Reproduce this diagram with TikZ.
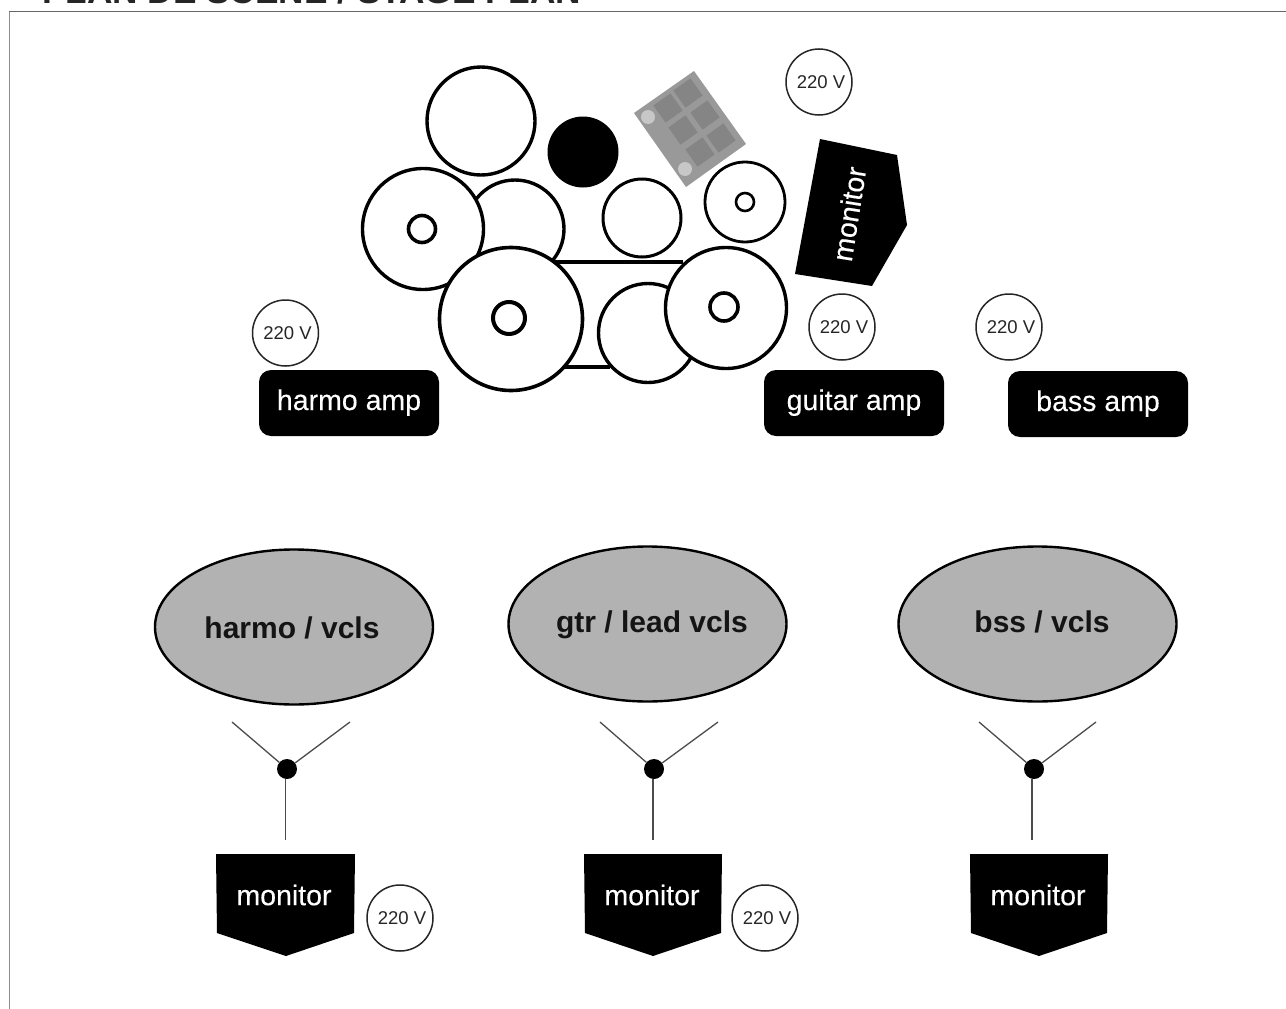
\documentclass[tikz,border=0pt]{standalone}
\usepackage{fontspec}
\setmainfont{Liberation Sans}
\newfontfamily\whitefont[FakeBold=0.25]{Liberation Sans}
\usetikzlibrary{shapes.geometric}
\tikzset{
  x=1pt,y=-1pt,
  drum/.style={circle,draw=black,fill=white,line width=3.4pt,inner sep=0pt},
  lug/.style={circle,draw=black,fill=white,inner sep=0pt},
  volt/.style={circle,draw=black!85,fill=white,line width=1.5pt,inner sep=0pt,minimum size=66pt,text=black!85,font=\fontsize{18.5}{20}\selectfont},
  ampbox/.style={rectangle,rounded corners=12pt,fill=black,text=white,minimum width=180pt,minimum height=66pt,inner sep=0pt,text height=20pt,text depth=6pt,font=\whitefont\fontsize{28.5}{30}\selectfont},
  singer/.style={ellipse,draw=black,line width=2.4pt,fill=black!30,minimum width=278pt,minimum height=155pt,inner sep=0pt},
  singerlabel/.style={inner sep=0pt,text height=22pt,text depth=0pt,font=\bfseries\fontsize{30}{32}\selectfont,text=black!92},
  micdot/.style={circle,fill=black,minimum size=20pt,inner sep=0pt},
  micline/.style={draw=black!70,line width=1.3pt},
  montext/.style={inner sep=0pt,text=white,font=\whitefont\fontsize{28.5}{30}\selectfont},
  monbody/.style={fill=black},
  padbody/.style={fill=black!40},
  padcell/.style={fill=black!48},
  paddot/.style={fill=black!22},
}
\begin{document}
\begin{tikzpicture}
\useasboundingbox (0,0) rectangle (1286,1009);
\fill[white] (0,0) rectangle (1286,1009);
\clip (0,0) rectangle (1286,1009);
% title, cut by the top edge
\node[anchor=base west,inner sep=0pt,font=\bfseries\fontsize{35.2}{36}\selectfont,text=black!85] (title) at (42,4) {PLAN DE SCENE / STAGE PLAN};
% frame
\coordinate (fa) at (9,1009); \coordinate (fb) at (9,11.5); \coordinate (fc) at (1286,11.5);
\draw[draw=black!45,line width=1pt] (fa) -- (fb);
\draw[draw=black!60,line width=1.2pt] (fb) -- (fc);
% pad
\fill[padbody] (694,71) -- (746,144) -- (686,187) -- (634,113) -- cycle;
\foreach \cx/\cy in {688/93,705/115,721/138,668/108,683/130,700/152}{
  \begin{scope}[shift={(\cx,\cy)},rotate=-54.5]
    \fill[padcell] (-10.5,-10.5) rectangle (10.5,10.5);
  \end{scope}
}
\fill[paddot] (648,117) circle[radius=7];
\fill[paddot] (685,169) circle[radius=7];
% drum kit
\coordinate (bt1) at (555,262); \coordinate (bt2) at (683,262);
\coordinate (bb1) at (565,367); \coordinate (bb2) at (610,367);
\draw[line width=3.4pt] (bt1) -- (bt2);
\draw[line width=3.4pt] (bb1) -- (bb2);
\node[drum,minimum size=108pt] (crash) at (481,121) {};
\node[circle,fill=black,minimum size=71pt,inner sep=0pt] (hat) at (583,152) {};
\node[drum,minimum size=78pt,line width=3pt] (tomc) at (642,218) {};
\node[drum,minimum size=80pt,line width=2.8pt] (toms) at (745,202) {};
\node[lug,minimum size=18pt,line width=2.6pt] (tomsi) at (745,202) {};
\node[drum,minimum size=98pt] (toml) at (515,229) {};
\node[drum,minimum size=121pt] (floorl) at (423,229) {};
\node[lug,minimum size=27pt,line width=3.6pt] (floorli) at (422,229) {};
\node[drum,minimum size=143pt,line width=3.6pt] (kick) at (511,319) {};
\node[lug,minimum size=32pt,line width=4pt] (kicki) at (509,318) {};
\node[drum,minimum size=99pt] (snare) at (648,333) {};
\node[drum,minimum size=121pt] (floorr) at (726,308) {};
\node[lug,minimum size=28pt,line width=3.6pt] (floorri) at (724,307) {};
% side monitor
\fill[monbody] (820,139) -- (897,155) -- (907,225) -- (872,286) -- (795,274) -- cycle;
\node[montext,rotate=81] (monside) at (849,214) {monitor};
% power
\node[volt] (p1) at (819,82) {\hspace*{4pt}220 V};
\node[volt] (p2) at (285.5,333) {\hspace*{4pt}220 V};
\node[volt] (p3) at (842,327) {\hspace*{4pt}220 V};
\node[volt] (p4) at (1009,327) {\hspace*{4pt}220 V};
\node[volt] (p5) at (400,918) {\hspace*{4pt}220 V};
\node[volt] (p6) at (765,918) {\hspace*{4pt}220 V};
% amps
\node[ampbox] (a1) at (349,403) {harmo amp};
\node[ampbox] (a2) at (854,403) {guitar amp};
\node[ampbox] (a3) at (1098,404) {bass amp};
% singers
\node[singer] (s1) at (294,627) {};
\node[singer] (s2) at (647.5,624) {};
\node[singer] (s3) at (1037.5,624) {};
\node[singerlabel] (l1) at (292,627) {harmo / vcls};
\node[singerlabel] (l2) at (652,621) {gtr / lead vcls};
\node[singerlabel] (l3) at (1042,621) {bss / vcls};
% mics
\foreach \n/\dx/\dy/\ax/\bx/\sx in {1/287/769/232/350/285.5,2/654/769/600/718/653,3/1034/769/979/1096/1032}{
  \coordinate (ma\n) at (\ax,722);
  \coordinate (mb\n) at (\bx,722);
  \coordinate (mc\n) at (\sx,840);
  \node[micdot] (md\n) at (\dx,\dy) {};
  \draw[micline] (md\n) -- (ma\n);
  \draw[micline] (md\n) -- (mb\n);
  \draw[micline] (md\n.south -| mc\n) -- (mc\n);
}
% monitors
\foreach \n/\l/\r/\t/\tx in {1/216/355/286/284,2/584/722/653/652,3/970/1108/1039/1038}{
  \fill[monbody] (\l,854) -- (\r,854) -- (\r-1,933) -- (\t,956) -- (\l+1,933) -- cycle;
  \node[montext] (m\n) at (\tx,895) {monitor};
}
\end{tikzpicture}
\end{document}
